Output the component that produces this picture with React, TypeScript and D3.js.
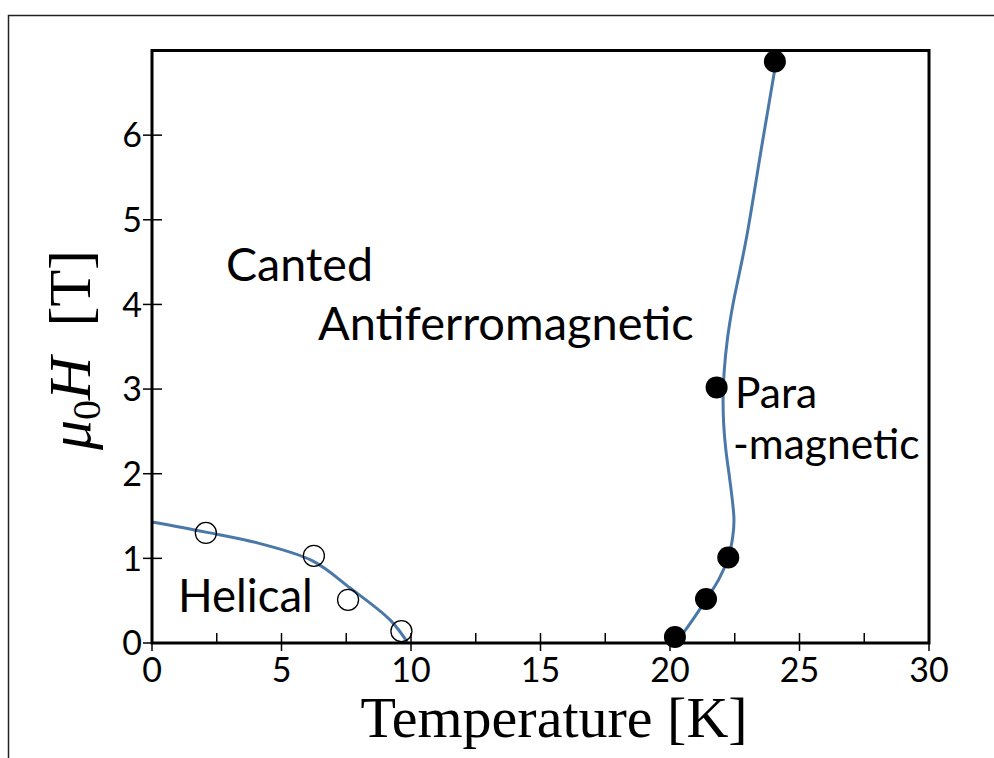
import React from "react";
import * as d3 from "d3";

// Helical phase boundary data (open circles)
const helicalT = [2.08, 6.25, 7.57, 9.63];
const helicalH = [1.3, 1.03, 0.51, 0.14];
// Paramagnetic boundary data (filled circles)
const paraT = [20.19, 21.39, 22.25, 21.8, 24.05];
const paraH = [0.07, 0.52, 1.01, 3.02, 6.87];

// Guide-to-the-eye curves
const helicalCurveT = [0, 2.08, 4.1, 6.2, 7.65, 9.2, 9.88];
const helicalCurveH = [1.43, 1.31, 1.18, 0.97, 0.65, 0.27, 0.0];
const paraCurveT = [20.23, 20.8, 21.39, 21.9, 22.25, 22.42, 22.47, 22.42, 22.3, 22.15, 22.07, 22.05, 22.09, 22.22, 22.43, 22.7, 22.96, 23.56, 24.17];
const paraCurveH = [0.0, 0.24, 0.51, 0.76, 1.01, 1.25, 1.45, 1.65, 1.95, 2.3, 2.6, 2.9, 3.2, 3.6, 4.0, 4.4, 4.8, 5.9, 7.0];

const xMajorTicks = [0, 5, 10, 15, 20, 25, 30];
const xMinorTicks = [2.5, 7.5, 12.5, 17.5, 22.5, 27.5];
const yTicks = [0, 1, 2, 3, 4, 5, 6];

const W = 994;
const H = 758;
const M = { left: 152, top: 50.5, right: 929, bottom: 643 };

export default function App() {
  const x = d3.scaleLinear().domain([0, 30]).range([M.left, M.right]);
  const y = d3.scaleLinear().domain([0, 7]).range([M.bottom, M.top]);

  const curveLine = d3
    .line<[number, number]>()
    .x((d) => x(d[0]))
    .y((d) => y(d[1]))
    .curve(d3.curveCatmullRom.alpha(0.5));

  const helPts: [number, number][] = helicalCurveT.map((t, i) => [t, helicalCurveH[i]]);
  const paraPts: [number, number][] = paraCurveT.map((t, i) => [t, paraCurveH[i]]);

  const sans = "Lato, 'Open Sans', sans-serif";
  const serif = "'Liberation Serif', 'DejaVu Serif', serif";
  const curveColor = "#4a78a8";

  return (
    <svg
      width={W}
      height={H}
      style={{ position: "absolute", left: 0, top: 0, background: "#fff" }}
    >
      <rect x={0} y={0} width={W} height={H} fill="#fff" />
      {/* outer frame */}
      <rect x={8.5} y={15.5} width={W + 20} height={H + 20} fill="none" stroke="#222" strokeWidth={1.5} />

      {/* curves */}
      <path d={curveLine(helPts) || ""} fill="none" stroke={curveColor} strokeWidth={3} />
      <path d={curveLine(paraPts) || ""} fill="none" stroke={curveColor} strokeWidth={3} />

      {/* data points */}
      {helicalT.map((t, i) => (
        <circle key={"h" + i} cx={x(t)} cy={y(helicalH[i])} r={10.5} fill="none" stroke="#000" strokeWidth={1.3} />
      ))}
      {paraT.map((t, i) => (
        <circle key={"p" + i} cx={x(t)} cy={y(paraH[i])} r={11} fill="#000" />
      ))}

      {/* plot frame */}
      <rect
        x={M.left}
        y={M.top}
        width={M.right - M.left}
        height={M.bottom - M.top}
        fill="none"
        stroke="#000"
        strokeWidth={3}
      />

      {/* x ticks */}
      {xMajorTicks.map((t) => (
        <g key={"xt" + t}>
          <line x1={x(t)} x2={x(t)} y1={M.bottom - 10} y2={M.bottom + 8} stroke="#000" strokeWidth={1.5} />
          <text x={x(t)} y={682} fontFamily={sans} fontSize={34} textAnchor="middle" fill="#000">
            {t}
          </text>
        </g>
      ))}
      {xMinorTicks.map((t) => (
        <line key={"xm" + t} x1={x(t)} x2={x(t)} y1={M.bottom - 10} y2={M.bottom} stroke="#000" strokeWidth={1.5} />
      ))}

      {/* y ticks */}
      {yTicks.map((t) => (
        <g key={"yt" + t}>
          <line x1={M.left - 9} x2={M.left + 10} y1={y(t)} y2={y(t)} stroke="#000" strokeWidth={1.5} />
          <text x={142} y={y(t)} dy="0.36em" fontFamily={sans} fontSize={34} textAnchor="end" fill="#000">
            {t}
          </text>
        </g>
      ))}

      {/* axis titles */}
      <text x={554} y={737} fontFamily={serif} fontSize={58} textAnchor="middle" fill="#000">
        Temperature [K]
      </text>
      <text
        transform="translate(90,350) rotate(-90)"
        fontFamily={serif}
        fontSize={60}
        textAnchor="middle"
        fill="#000"
      >
        <tspan fontStyle="italic">μ</tspan>
        <tspan fontSize={40} dy={10}>0</tspan>
        <tspan fontStyle="italic" dy={-10}>H</tspan>
        <tspan>{"\u00a0\u00a0[T]"}</tspan>
      </text>

      {/* region labels */}
      <text x={226} y={281} fontFamily={sans} fontSize={46.5} fill="#000">Canted</text>
      <text x={318} y={340} fontFamily={sans} fontSize={47} fill="#000">Antiferromagnetic</text>
      <text x={178} y={612} fontFamily={sans} fontSize={45.5} fill="#000">Helical</text>
      <text x={735} y={408} fontFamily={sans} fontSize={42.5} fill="#000">Para</text>
      <text x={733} y={459} fontFamily={sans} fontSize={42.5} fill="#000">-magnetic</text>
    </svg>
  );
}
